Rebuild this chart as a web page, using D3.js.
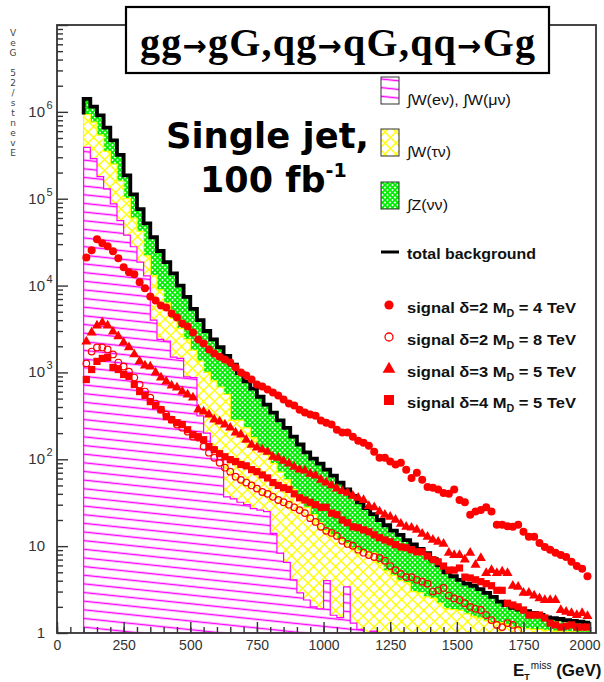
<!DOCTYPE html>
<html>
<head>
<meta charset="utf-8">
<script src="https://cdn.jsdelivr.net/npm/d3@7"></script>
<style>
  body { margin: 0; background: #fff; }
  svg { display: block; }
</style>
</head>
<body>
<svg id="chart" width="604" height="682"></svg>
<script>
// background histograms, 25 GeV bins from 100 to 2000 GeV (stacked levels as drawn)
const bgEdges = d3.range(100, 2001, 25);

// W(e nu) + W(mu nu)
const stackWlep = [
    3.9e5, 2.9e5, 1.8e5, 1.3e5, 8.7e4, 5.6e4, 3.8e4, 2.8e4, 1.86e4, 1.29e4,
    4000, 2400, 2300, 1500, 1450, 890, 870, 316, 200, 132,
    100, 37, 35, 32, 30, 27, 26, 25, 14, 8.3,
    6.5, 4.1, 2.9, 2.4, 2.0, 1.9, 4.0, 1.6, 1.5, 3.4,
    1.3, 1.1, 0, 1.05, 0, 0, 0, 0, 0, 0,
    0, 0, 0, 0, 0, 0, 0, 0, 0, 0,
    0, 0, 0, 0, 0, 0, 0, 0, 0, 0,
    0, 0, 0, 0, 0, 0
];

// + W(tau nu)
const stackWall = [
    9.3e5, 7.6e5, 5.4e5, 3.5e5, 2.5e5, 1.6e5, 1.0e5, 6.0e4, 4.2e4, 2.2e4,
    1.3e4, 8900, 6300, 4200, 3200, 2400, 1800, 1350, 1000, 800,
    680, 560, 280, 280, 230, 178, 132, 112, 89, 71,
    58, 45, 36, 28, 23, 18.6, 15.1, 13.5, 12, 10.7,
    9.5, 8.9, 8.5, 8.3, 6.3, 5.2, 4.6, 4.0, 3.8, 3.0,
    2.9, 2.6, 2.5, 2.2, 1.9, 1.86, 1.82, 1.66, 1.55, 1.48,
    1.38, 1.32, 1.32, 1.26, 1.17, 1.15, 1.12, 1.10, 1.10, 1.07,
    1.05, 1.05, 1.04, 1.03, 1.02, 1.02
];

// + Z(nu nu) = total background
const stackTotal = [
    1.41e6, 1.15e6, 9.1e5, 6.6e5, 4.7e5, 3.2e5, 1.86e5, 1.12e5, 7.6e4, 5.2e4,
    3.6e4, 2.5e4, 1.86e4, 1.38e4, 1.0e4, 7400, 5400, 4000, 3000, 2400,
    1950, 1550, 1230, 980, 790, 650, 525, 425, 345, 280,
    230, 182, 148, 120, 102, 89, 76, 65, 54, 45,
    38, 32, 27.5, 23.4, 20, 17.4, 15.1, 13.5, 11.7, 10.5,
    9.3, 8.3, 7.1, 6.0, 5.0, 4.5, 4.1, 3.7, 3.5, 3.2,
    2.9, 2.6, 2.3, 2.1, 1.95, 1.86, 1.78, 1.70, 1.62, 1.51,
    1.48, 1.45, 1.41, 1.38, 1.35, 1.32
];

// signals, 20 GeV bins (centres 110 ... 1990)
const sigBins = d3.range(110, 2000, 20);

const sigD2M4 = [
    21100, 25500, 34100, 30700, 28300, 24800, 20600, 16200, 14200, 13500,
    10900, 9290, 7500, 6750, 5910, 5600, 4780, 4300, 3660, 3380,
    2880, 2400, 2150, 1840, 1650, 1520, 1410, 1300, 1140, 997,
    920, 828, 725, 687, 635, 586, 542, 487, 438, 415,
    373, 345, 327, 318, 279, 264, 251, 219, 203, 203,
    182, 164, 155, 143, 122, 104, 104, 94, 87, 91,
    76, 61, 70, 58, 48, 47, 45, 41, 40, 45,
    34, 32, 23, 25, 26, 28, 25, 17.6, 17.6, 17,
    16.7, 17.6, 14.6, 12.8, 12.8, 10.9, 9.8, 9.1, 8.4, 7.9,
    7.5, 6.6, 5.9, 5.5, 4.5
];

const sigD2M8 = [
    1270, 1740, 1940, 1940, 1840, 1610, 1300, 1170, 1020, 873,
    725, 602, 513, 438, 373, 327, 286, 251, 231, 208,
    182, 178, 140, 119, 104, 91, 80, 72, 63, 58,
    54, 50, 46, 42, 40, 37, 34, 32, 30, 28,
    26, 24, 21, 19, 16.7, 15, 14.2, 13.1, 11.5, 10.6,
    10.1, 9.1, 8.4, 7.9, 7.5, 7.3, 6.8, 5.9, 5.3, 4.8,
    4.4, 4.4, 4.1, 3.9, 3.7, 3.0, 3.1, 3.3, 2.7, 2.5,
    2.4, 2.2, 2.0, 1.9, 1.84, 1.61, 1.41, 1.24, 1.17, 1.30,
    1.24, 1.08, 0, 0, 0, 0, 0, 0, 0, 0,
    0, 0, 0, 0, 0
];

const sigD3M5 = [
    2270, 2880, 3470, 3760, 3470, 2960, 2600, 2210, 1940, 1610,
    1340, 1200, 1170, 998, 873, 785, 706, 670, 602, 556,
    513, 373, 354, 327, 286, 271, 251, 231, 203, 192,
    168, 147, 136, 129, 122, 107, 104, 96, 89, 82,
    76, 74, 68, 65, 58, 54, 50, 46, 43, 41,
    38, 36, 34, 29, 28, 25, 23, 21.8, 20.1, 18.1,
    16.7, 16.3, 15.4, 13.9, 12.8, 11.8, 11.2, 10.6, 8.4, 7.9,
    7.9, 7.0, 8.4, 6.1, 7.3, 4.9, 5.3, 4.9, 5.1, 4.9,
    3.5, 3.4, 2.9, 2.9, 2.7, 2.5, 2.4, 2.4, 2.4, 1.84,
    1.75, 1.70, 1.61, 1.70, 1.57
];

const sigD4M5 = [
    828, 1080, 1340, 1450, 1490, 1140, 1080, 946, 897, 725,
    602, 542, 461, 415, 373, 310, 286, 264, 251, 219,
    192, 182, 168, 140, 129, 116, 107, 99, 94, 87,
    84, 76, 72, 66, 61, 54, 50, 47, 45, 40,
    36, 34, 32, 30, 28, 28, 24, 23, 20, 18.6,
    16.7, 16.3, 15.4, 14.6, 13.5, 12.5, 11.8, 11.2, 10.4, 9.8,
    9.6, 9.1, 8.6, 8.6, 7.7, 7.0, 6.6, 5.9, 5.3, 5.3,
    5.6, 4.4, 4.3, 4.1, 3.9, 3.7, 3.5, 3.1, 3.1, 2.2,
    2.1, 2.0, 1.84, 1.61, 1.61, 1.61, 1.49, 1.30, 1.24, 1.17,
    1.2, 1.24, 1.17, 1.17, 1.17
];

const xTicks = d3.range(0, 2001, 250);
const xMinorTicks = d3.range(0, 2001, 50);
const yDecades = [1, 10, 100, 1e3, 1e4, 1e5, 1e6, 1e7];
const yAxisTitle = "VeG 52/stnevE";
const titleParts = ["gg", "gG,qg", "qG,qq", "Gg"];

const bgLegend = [
    { label: "\u222BW(e\u03BD), \u222BW(\u03BC\u03BD)", fill: "url(#hatchMag)", width: 104 },
    { label: "\u222BW(\u03C4\u03BD)", fill: "url(#hatchYel)", width: 44 },
    { label: "\u222BZ(\u03BD\u03BD)", fill: "url(#hatchGrn)", width: 41 }
];
const sigLegend = [
    { delta: "2", md: "4", kind: "dot" },
    { delta: "2", md: "8", kind: "ring" },
    { delta: "3", md: "5", kind: "tri" },
    { delta: "4", md: "5", kind: "sq" }
];

const RED = "#ff0000";
const svg = d3.select("#chart");

const x = d3.scaleLinear().domain([0, 2022]).range([57, 596]);
const y = d3.scaleLog().domain([1, 1e7]).range([633, 25]).clamp(true);

// fill patterns
const defs = svg.append("defs");

const pm = defs.append("pattern")
    .attr("id", "hatchMag")
    .attr("patternUnits", "userSpaceOnUse")
    .attr("width", 12).attr("height", 8.6)
    .attr("patternTransform", "rotate(6)");
pm.append("rect").attr("width", 12).attr("height", 8.6).attr("fill", "#fff");
pm.append("line")
    .attr("x1", 0).attr("x2", 12).attr("y1", 4.3).attr("y2", 4.3)
    .attr("stroke", "#ff00ff").attr("stroke-width", 1.5);

const py = defs.append("pattern")
    .attr("id", "hatchYel")
    .attr("patternUnits", "userSpaceOnUse")
    .attr("width", 11).attr("height", 11);
py.append("rect").attr("width", 11).attr("height", 11).attr("fill", "#fff");
py.append("path")
    .attr("d", "M-1,-1L12,12M12,-1L-1,12")
    .attr("stroke", "#ffff00").attr("stroke-width", 1.4);

const pg = defs.append("pattern")
    .attr("id", "hatchGrn")
    .attr("patternUnits", "userSpaceOnUse")
    .attr("width", 5).attr("height", 5);
pg.append("rect").attr("width", 5).attr("height", 5).attr("fill", "#fff");
pg.append("path")
    .attr("d", "M-1,-1L6,6M6,-1L-1,6")
    .attr("stroke", "#00ee00").attr("stroke-width", 1.8);

defs.append("clipPath").attr("id", "plotClip")
    .append("rect")
    .attr("x", x(0)).attr("y", y(1e7))
    .attr("width", x(2022) - x(0)).attr("height", y(1) - y(1e7));

// step outline of a histogram, closed down to the floor
function histPath(values) {
    const p = d3.path();
    p.moveTo(x(bgEdges[0]), y(1));
    values.forEach(function (v, i) {
        const yy = y(Math.max(v, 1));
        p.lineTo(x(bgEdges[i]), yy);
        p.lineTo(x(bgEdges[i + 1]), yy);
    });
    p.lineTo(x(bgEdges[bgEdges.length - 1]), y(1));
    p.closePath();
    return p.toString();
}

const plot = svg.append("g").attr("clip-path", "url(#plotClip)");

plot.append("path").attr("d", histPath(stackTotal))
    .attr("fill", "url(#hatchGrn)").attr("stroke", "#00dd00").attr("stroke-width", 1);
plot.append("path").attr("d", histPath(stackWall))
    .attr("fill", "url(#hatchYel)").attr("stroke", "#ffff00").attr("stroke-width", 1.2);
plot.append("path").attr("d", histPath(stackWlep))
    .attr("fill", "url(#hatchMag)").attr("stroke", "#ff00ff").attr("stroke-width", 1.2);

// thick black line along the total background
const tot = d3.path();
tot.moveTo(x(bgEdges[0]), y(stackWall[0]));
stackTotal.forEach(function (v, i) {
    tot.lineTo(x(bgEdges[i]), y(v));
    tot.lineTo(x(bgEdges[i + 1]), y(v));
});
plot.append("path").attr("d", tot.toString())
    .attr("fill", "none").attr("stroke", "#000").attr("stroke-width", 3.8)
    .attr("stroke-linejoin", "miter");

// signal markers
function points(values) {
    return d3.zip(sigBins, values).filter((d) => d[1] >= 1);
}

plot.append("g").selectAll("path")
    .data(points(sigD4M5)).enter().append("path")
    .attr("transform", (d) => `translate(${x(d[0])},${y(d[1])})`)
    .attr("d", d3.symbol().type(d3.symbolSquare).size(52))
    .attr("fill", RED);

plot.append("g").selectAll("path")
    .data(points(sigD3M5)).enter().append("path")
    .attr("transform", (d) => `translate(${x(d[0])},${y(d[1])})`)
    .attr("d", d3.symbol().type(d3.symbolTriangle).size(44))
    .attr("fill", RED);

plot.append("g").selectAll("circle")
    .data(points(sigD2M8)).enter().append("circle")
    .attr("cx", (d) => x(d[0])).attr("cy", (d) => y(d[1]))
    .attr("r", 3.3)
    .attr("fill", "none").attr("stroke", RED).attr("stroke-width", 1.2);

plot.append("g").selectAll("circle")
    .data(points(sigD2M4)).enter().append("circle")
    .attr("cx", (d) => x(d[0])).attr("cy", (d) => y(d[1]))
    .attr("r", 4)
    .attr("fill", RED);

// axes
const yMinor = [];
yDecades.slice(0, -1).forEach(function (dec) {
    d3.range(2, 10).forEach((m) => yMinor.push(dec * m));
});

function styleTicks(g) {
    g.select(".domain").remove();
    g.selectAll("line").attr("stroke", "#333").attr("stroke-width", 1.4);
}

svg.append("g").attr("transform", `translate(${x(0)},0)`)
    .call(d3.axisLeft(y).tickValues(yMinor).tickSize(-6).tickFormat(""))
    .call(styleTicks);
svg.append("g").attr("transform", `translate(${x(0)},0)`)
    .call(d3.axisLeft(y).tickValues(yDecades).tickSize(-11).tickFormat(""))
    .call(styleTicks);

svg.append("g").attr("transform", `translate(0,${y(1)})`)
    .call(d3.axisBottom(x).tickValues(xMinorTicks).tickSize(-6).tickFormat(""))
    .call(styleTicks);
const xLast = xTicks[xTicks.length - 1];
svg.append("g").attr("transform", `translate(0,${y(1)})`)
    .call(d3.axisBottom(x).tickValues(xTicks).tickSize(-11).tickPadding(7).tickFormat(d3.format("d")))
    .call(styleTicks)
    .call((g) => g.selectAll("text")
        .attr("fill", "#333")
        .style("font-family", "Liberation Sans, Arial, sans-serif")
        .style("font-size", "14px"))
    .call((g) => g.selectAll("text").filter((d) => d === xLast)
        .attr("text-anchor", "end")
        .attr("x", 600 - x(xLast)));

// frame
svg.append("rect")
    .attr("x", x(0)).attr("y", y(1e7))
    .attr("width", x(2022) - x(0)).attr("height", y(1) - y(1e7))
    .attr("fill", "none").attr("stroke", "#333").attr("stroke-width", 1.8);

// y tick labels
const yLab = svg.append("g")
    .style("font-family", "Liberation Sans, Arial, sans-serif")
    .attr("fill", "#333");
yDecades.slice(0, -1).forEach(function (v) {
    const n = Math.round(Math.log10(v));
    yLab.append("text").attr("x", 45).attr("y", y(v) + 5)
        .attr("text-anchor", "end").style("font-size", "15px")
        .text(n === 0 ? "1" : "10");
    if (n >= 2) {
        yLab.append("text").attr("x", 46.5).attr("y", y(v) - 3)
            .style("font-size", "11px").text(n);
    }
});

// y axis title, characters stacked
svg.append("g")
    .style("font-family", "DejaVu Sans, sans-serif")
    .style("font-size", "9px")
    .attr("fill", "#444")
    .selectAll("text")
    .data(yAxisTitle.split(""))
    .enter().append("text")
    .attr("x", 13).attr("y", (d, i) => 36 + i * 10)
    .attr("text-anchor", "middle")
    .text((d) => d);

// x axis title
const xt = svg.append("text")
    .attr("x", 513).attr("y", 676)
    .style("font-family", "Liberation Sans, Arial, sans-serif")
    .style("font-weight", "bold")
    .attr("fill", "#111");
xt.append("tspan").style("font-size", "17px").text("E");
xt.append("tspan").attr("dy", 4).style("font-size", "9px").text("T");
xt.append("tspan").attr("dy", -11).attr("dx", 1).style("font-size", "10px").style("font-weight", "normal").text("miss");
xt.append("tspan").attr("dy", 7).style("font-size", "17px").text(" (GeV)");

// process title box
svg.append("rect")
    .attr("x", 126).attr("y", 7).attr("width", 423).attr("height", 66)
    .attr("fill", "#fff").attr("stroke", "#000").attr("stroke-width", 2.2);
const title = svg.append("text")
    .attr("x", 140).attr("y", 56)
    .attr("textLength", 395).attr("lengthAdjust", "spacing")
    .style("font-family", "Liberation Serif, Times New Roman, serif")
    .style("font-weight", "bold")
    .style("font-size", "40px");
titleParts.forEach(function (part, i) {
    if (i > 0) {
        title.append("tspan")
            .style("font-family", "DejaVu Sans, sans-serif")
            .style("font-size", "29px")
            .text("\u2192");
    }
    title.append("tspan").text(part);
});

// luminosity label
const big = svg.append("g")
    .style("font-family", "DejaVu Sans, sans-serif")
    .style("font-weight", "bold")
    .attr("fill", "#000");
big.append("text").attr("x", 166).attr("y", 148)
    .attr("textLength", 203).attr("lengthAdjust", "spacingAndGlyphs")
    .style("font-size", "35px").text("Single jet,");
const lumi = big.append("text").attr("x", 200).attr("y", 192).style("font-size", "35px");
lumi.append("tspan").text("100 fb");
lumi.append("tspan").attr("dy", -15).style("font-size", "19px").text("-1");

// legend
const leg = svg.append("g")
    .style("font-family", "Liberation Sans, Arial, sans-serif")
    .attr("fill", "#111");

const boxTop = [77, 129, 182];
bgLegend.forEach(function (d, i) {
    leg.append("rect")
        .attr("x", 381).attr("y", boxTop[i]).attr("width", 18).attr("height", 27)
        .attr("fill", d.fill).attr("stroke", "#333").attr("stroke-width", 1);
    leg.append("text")
        .attr("x", 407).attr("y", boxTop[i] + 28)
        .attr("textLength", d.width).attr("lengthAdjust", "spacingAndGlyphs")
        .style("font-size", "15px")
        .text(d.label);
});

leg.append("line")
    .attr("x1", 381).attr("x2", 399).attr("y1", 252).attr("y2", 252)
    .attr("stroke", "#000").attr("stroke-width", 3);
leg.append("text")
    .attr("x", 407).attr("y", 259)
    .attr("textLength", 129).attr("lengthAdjust", "spacingAndGlyphs")
    .style("font-size", "15.5px").style("font-weight", "bold")
    .text("total background");

const sigRowY = [305, 337, 369, 400];
sigLegend.forEach(function (d, i) {
    const cy = sigRowY[i];
    const m = leg.append("g").attr("transform", `translate(389,${cy})`);
    if (d.kind === "dot") {
        m.append("circle").attr("r", 4.6).attr("fill", RED);
    } else if (d.kind === "ring") {
        m.append("circle").attr("r", 4).attr("fill", "none").attr("stroke", RED).attr("stroke-width", 1.3);
    } else if (d.kind === "tri") {
        m.append("path").attr("d", d3.symbol().type(d3.symbolTriangle).size(70)).attr("fill", RED);
    } else {
        m.append("path").attr("d", d3.symbol().type(d3.symbolSquare).size(100)).attr("fill", RED);
    }
    const t = leg.append("text")
        .attr("x", 407).attr("y", cy + 8)
        .attr("textLength", 169).attr("lengthAdjust", "spacingAndGlyphs")
        .style("font-size", "15.5px").style("font-weight", "bold");
    t.append("tspan").text(`signal \u03B4=${d.delta}  M`);
    t.append("tspan").attr("dy", 4).style("font-size", "10px").text("D");
    t.append("tspan").attr("dy", -4).text(` = ${d.md} TeV`);
});
</script>
</body>
</html>
